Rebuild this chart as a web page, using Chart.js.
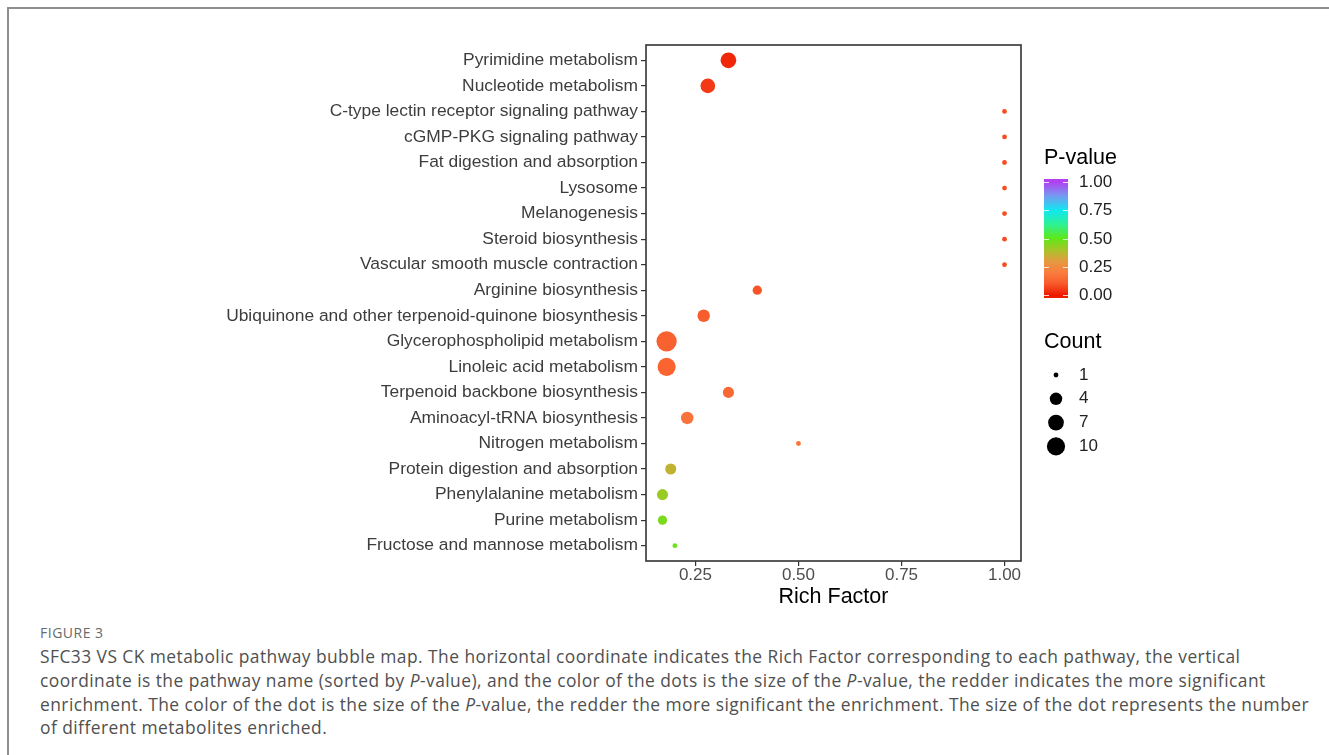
<!DOCTYPE html>
<html>
<head>
<meta charset="utf-8">
<script src="https://cdn.jsdelivr.net/npm/chart.js@4.4.1/dist/chart.umd.min.js"></script>
<style>
  html, body { margin: 0; padding: 0; background: #fff; width: 1329px; height: 755px; overflow: hidden; }
  #frame { position: absolute; left: 7px; top: 7px; width: 1322px; height: 748px;
           border-top: 2px solid #8e8e8e; border-left: 2px solid #8e8e8e; box-sizing: border-box; }
  #chart { position: absolute; left: 0; top: 0; }
  .fig-label { position: absolute; left: 40px; top: 623px; font-family: "Open Sans", "Noto Sans", sans-serif;
               font-size: 14px; color: #6a6a6a; letter-spacing: 0.5px; }
  .caption { position: absolute; left: 40px; top: 645px; font-family: "Open Sans", "Noto Sans", sans-serif;
             font-size: 17.4px; line-height: 23.8px; color: #505050; white-space: nowrap; letter-spacing: 0.45px; }
</style>
</head>
<body>
<div id="frame"></div>
<canvas id="chart" width="1329" height="610"></canvas>
<div class="fig-label">FIGURE 3</div>
<div class="caption">
  <div>SFC33 VS CK metabolic pathway bubble map. The horizontal coordinate indicates the Rich Factor corresponding to each pathway, the vertical</div>
  <div>coordinate is the pathway name (sorted by <i>P</i>-value), and the color of the dots is the size of the <i>P</i>-value, the redder indicates the more significant</div>
  <div>enrichment. The color of the dot is the size of the <i>P</i>-value, the redder the more significant the enrichment. The size of the dot represents the number</div>
  <div>of different metabolites enriched.</div>
</div>
<script>
// Enriched pathways, listed top to bottom (sorted by P-value)
const pathways = [
  "Pyrimidine metabolism",
  "Nucleotide metabolism",
  "C-type lectin receptor signaling pathway",
  "cGMP-PKG signaling pathway",
  "Fat digestion and absorption",
  "Lysosome",
  "Melanogenesis",
  "Steroid biosynthesis",
  "Vascular smooth muscle contraction",
  "Arginine biosynthesis",
  "Ubiquinone and other terpenoid-quinone biosynthesis",
  "Glycerophospholipid metabolism",
  "Linoleic acid metabolism",
  "Terpenoid backbone biosynthesis",
  "Aminoacyl-tRNA biosynthesis",
  "Nitrogen metabolism",
  "Protein digestion and absorption",
  "Phenylalanine metabolism",
  "Purine metabolism",
  "Fructose and mannose metabolism"
];
const richFactor = [0.33, 0.28, 1.00, 1.00, 1.00, 1.00, 1.00, 1.00, 1.00, 0.40,
                    0.27, 0.18, 0.18, 0.33, 0.23, 0.50, 0.19, 0.17, 0.17, 0.20];
const pValue     = [0.02, 0.05, 0.08, 0.08, 0.08, 0.08, 0.08, 0.08, 0.08, 0.09,
                    0.11, 0.12, 0.13, 0.14, 0.17, 0.18, 0.36, 0.42, 0.46, 0.48];
const metCount   = [7, 6, 1, 1, 1, 1, 1, 1, 1, 2,
                    4, 13, 10, 3, 4, 1, 3, 3, 2, 1];

const xTicks = [0.25, 0.50, 0.75, 1.00];
const pBreaks = [0.00, 0.25, 0.50, 0.75, 1.00];
const countBreaks = [1, 4, 7, 10];

const FONT = '"Liberation Sans", Arial, sans-serif';

// P-value colour ramp: red (significant) through orange, green, cyan to purple
const colourStops = [
  [0.00, [238, 26, 0]],
  [0.10, [248, 90, 44]],
  [0.20, [250, 124, 62]],
  [0.30, [228, 154, 64]],
  [0.40, [168, 196, 40]],
  [0.50, [94, 232, 24]],
  [0.62, [48, 240, 144]],
  [0.75, [16, 232, 240]],
  [0.88, [120, 152, 240]],
  [1.00, [176, 64, 240]]
];
function pColour(p) {
  p = Math.max(0, Math.min(1, p));
  for (let i = 1; i < colourStops.length; i++) {
    const [p1, c1] = colourStops[i];
    const [p0, c0] = colourStops[i - 1];
    if (p <= p1) {
      const t = (p - p0) / (p1 - p0);
      const c = c0.map((v, k) => Math.round(v + (c1[k] - v) * t));
      return `rgb(${c[0]},${c[1]},${c[2]})`;
    }
  }
  const c = colourStops[colourStops.length - 1][1];
  return `rgb(${c[0]},${c[1]},${c[2]})`;
}

// Area-proportional dot size
const cMin = Math.min(...metCount);
const cMax = Math.max(...metCount);
function dotRadius(c) {
  const t = Math.max(0, (c - cMin) / (cMax - cMin));
  return (4.8 + 15.4 * Math.sqrt(t)) / 2;
}

// Panel border drawn on top of the dots
const panelBorder = {
  id: 'panelBorder',
  afterDatasetsDraw(chart) {
    const { ctx, chartArea: a } = chart;
    ctx.save();
    ctx.strokeStyle = '#333';
    ctx.lineWidth = 1.6;
    ctx.strokeRect(a.left, a.top, a.right - a.left, a.bottom - a.top);
    ctx.restore();
  }
};

// Colour bar and size legends to the right of the panel
const sideLegends = {
  id: 'sideLegends',
  afterDraw(chart) {
    const ctx = chart.ctx;
    ctx.save();
    ctx.textBaseline = 'middle';
    ctx.textAlign = 'left';

    // P-value colour bar
    ctx.fillStyle = '#000';
    ctx.font = `21.5px ${FONT}`;
    ctx.fillText('P-value', 1044, 158);
    const barX = 1044, barW = 24, barTop = 179, barBot = 298;
    const y0 = 295, y1 = 182; // positions of 0 and 1
    const yOf = p => y0 + (y1 - y0) * p;
    for (let y = barTop; y < barBot; y++) {
      const p = (y + 0.5 - y0) / (y1 - y0);
      ctx.fillStyle = pColour(p);
      ctx.fillRect(barX, y, barW, 1);
    }
    ctx.strokeStyle = 'rgba(255,255,255,0.8)';
    ctx.lineWidth = 1;
    ctx.font = `17px ${FONT}`;
    pBreaks.forEach(b => {
      const y = Math.round(yOf(b)) + 0.5;
      ctx.beginPath();
      ctx.moveTo(barX, y); ctx.lineTo(barX + 5, y);
      ctx.moveTo(barX + barW - 5, y); ctx.lineTo(barX + barW, y);
      ctx.stroke();
      ctx.fillStyle = '#222';
      ctx.fillText(b.toFixed(2), 1079, yOf(b) + 0.5);
    });

    // Count size legend
    ctx.fillStyle = '#000';
    ctx.font = `21.5px ${FONT}`;
    ctx.fillText('Count', 1044, 342);
    ctx.font = `17px ${FONT}`;
    countBreaks.forEach((c, i) => {
      const y = 375 + i * 23.8;
      ctx.fillStyle = '#000';
      ctx.beginPath();
      ctx.arc(1056, y, dotRadius(c), 0, Math.PI * 2);
      ctx.fill();
      ctx.fillStyle = '#222';
      ctx.fillText(String(c), 1079, y);
    });
    ctx.restore();
  }
};

new Chart(document.getElementById('chart'), {
  type: 'bubble',
  data: {
    datasets: [{
      data: pathways.map((name, i) => ({ x: richFactor[i], y: i, r: dotRadius(metCount[i]) })),
      backgroundColor: pValue.map(pColour),
      borderWidth: 0,
      hoverRadius: 0
    }]
  },
  options: {
    responsive: false,
    animation: false,
    events: [],
    layout: { padding: { left: 0, right: 308, top: 45, bottom: 0 } },
    plugins: { legend: { display: false }, tooltip: { enabled: false } },
    scales: {
      x: {
        type: 'linear',
        min: 0.13,
        max: 1.04,
        border: { display: false },
        grid: { drawOnChartArea: false, drawTicks: true, tickLength: 5, color: '#333', lineWidth: 1.2 },
        afterBuildTicks: s => { s.ticks = xTicks.map(v => ({ value: v })); },
        afterFit: s => { s.height = 49; },
        ticks: {
          callback: v => Number(v).toFixed(2),
          font: { family: FONT, size: 17 },
          color: '#4d4d4d',
          padding: -1,
          maxRotation: 0,
          autoSkip: false
        },
        title: {
          display: true,
          text: 'Rich Factor',
          font: { family: FONT, size: 21.5 },
          color: '#000',
          padding: { top: 0, bottom: 0 }
        }
      },
      y: {
        type: 'linear',
        reverse: true,
        min: -0.6,
        max: pathways.length - 0.4,
        border: { display: false },
        grid: { drawOnChartArea: false, drawTicks: true, tickLength: 5, color: '#333', lineWidth: 1.2 },
        afterBuildTicks: s => { s.ticks = pathways.map((_, i) => ({ value: i })); },
        afterFit: s => { s.width = 646; },
        ticks: {
          callback: v => pathways[Math.round(v)],
          font: { family: FONT, size: 17.4 },
          color: '#3d3d3d',
          padding: 3,
          autoSkip: false
        }
      }
    }
  },
  plugins: [panelBorder, sideLegends]
});
</script>
</body>
</html>
